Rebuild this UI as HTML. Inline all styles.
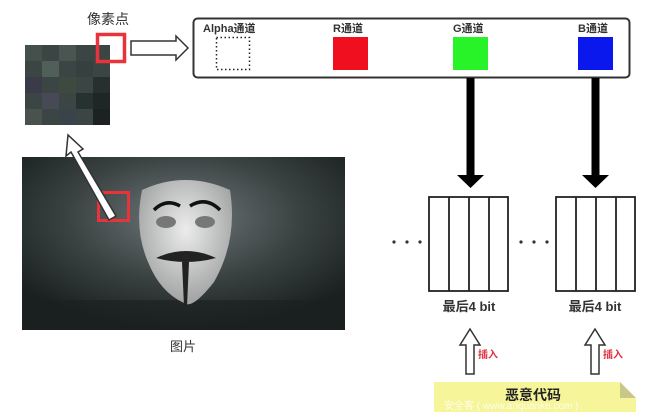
<!DOCTYPE html>
<html><head><meta charset="utf-8"><style>
html,body{margin:0;padding:0;background:#fff;width:660px;height:420px;overflow:hidden}
svg text{font-family:"Liberation Sans","Noto Sans CJK SC",sans-serif}
</style></head><body>
<svg width="660" height="420" viewBox="0 0 660 420" xmlns="http://www.w3.org/2000/svg">
<defs>
<radialGradient id="smoke" cx="0.5" cy="0.35" r="0.65">
<stop offset="0" stop-color="#70797a"/><stop offset="0.55" stop-color="#3a4242"/><stop offset="1" stop-color="#1a2020"/>
</radialGradient>
<radialGradient id="mask" cx="0.5" cy="0.4" r="0.6">
<stop offset="0" stop-color="#ececec"/><stop offset="1" stop-color="#a0a2a2"/>
</radialGradient>
</defs>
<g>
<rect x="25" y="45" width="85" height="80" fill="#3b4644"/>
<rect x="25" y="45" width="17" height="16" fill="#44504c"/><rect x="59" y="45" width="17" height="16" fill="#4a5552"/>
<rect x="42" y="61" width="17" height="16" fill="#506058"/><rect x="76" y="61" width="17" height="16" fill="#35403f"/>
<rect x="25" y="77" width="17" height="16" fill="#3a3a48"/><rect x="59" y="77" width="17" height="16" fill="#3e4a40"/>
<rect x="93" y="77" width="17" height="16" fill="#28302f"/><rect x="42" y="93" width="17" height="16" fill="#474a55"/>
<rect x="76" y="93" width="17" height="16" fill="#263230"/><rect x="93" y="93" width="17" height="16" fill="#1f2726"/>
<rect x="25" y="109" width="17" height="16" fill="#4a524e"/><rect x="59" y="109" width="17" height="16" fill="#3a424a"/>
<rect x="93" y="109" width="17" height="16" fill="#1c2222"/>
</g>
<text x="108" y="24" font-size="14" text-anchor="middle" fill="#333">像素点</text>
<rect x="97.5" y="34.5" width="27" height="27" fill="none" stroke="#e8333a" stroke-width="3.5"/>
<path d="M131,41 H176 V36 L188,48 L176,60 V55 H131 Z" fill="#fff" stroke="#333" stroke-width="1.5"/>
<rect x="193.5" y="18.5" width="436" height="59" rx="4" fill="#fff" stroke="#333" stroke-width="2"/>
<g font-size="11" font-weight="bold" fill="#333">
<text x="203" y="32">Alpha通道</text><text x="333" y="32">R通道</text><text x="453" y="32">G通道</text><text x="578" y="32">B通道</text>
</g>
<rect x="216.5" y="37.5" width="33" height="32" fill="none" stroke="#222" stroke-width="1.5" stroke-dasharray="1.5,2.5"/>
<rect x="333" y="37" width="35" height="33" fill="#f00f1e"/>
<rect x="453" y="37" width="35" height="33" fill="#28f228"/>
<rect x="578" y="37" width="35" height="33" fill="#0a18ee"/>
<rect x="466.5" y="78" width="8" height="97" fill="#000"/><path d="M457,175 H484 L470.5,188 Z" fill="#000"/>
<rect x="591.5" y="78" width="8" height="97" fill="#000"/><path d="M582,175 H609 L595.5,188 Z" fill="#000"/>
<rect x="22" y="157" width="323" height="173" fill="url(#smoke)"/>
<rect x="22" y="300" width="323" height="30" fill="#1b2020" opacity="0.6"/>
<path d="M142,190 Q185,170 230,190 Q238,240 214,282 Q192,310 184,303 Q160,292 148,262 Q134,230 142,190 Z" fill="url(#mask)"/>
<path d="M154,210 Q166,198 180,206 M190,206 Q206,196 220,210" stroke="#111" stroke-width="3.5" fill="none"/>
<ellipse cx="166" cy="222" rx="10" ry="6" fill="#777"/><ellipse cx="205" cy="222" rx="10" ry="6" fill="#777"/>
<path d="M156,258 Q186,244 216,258 Q186,266 156,258 Z" fill="#222"/>
<path d="M182,262 L189,262 L187,306 L184,306 Z" fill="#222"/>
<rect x="98.5" y="192.5" width="30" height="28" fill="none" stroke="#e8333a" stroke-width="3"/>
<path d="M116,216 L78,152 L83,149 L68,135 L66,156 L71,152 L109,220 Z" fill="#fff" stroke="#333" stroke-width="1.5"/>
<text x="183" y="351" font-size="13" text-anchor="middle" fill="#333">图片</text>
<g fill="none" stroke="#222" stroke-width="1.8">
<rect x="429" y="197" width="79" height="94"/>
<line x1="449" y1="197" x2="449" y2="291"/><line x1="469" y1="197" x2="469" y2="291"/><line x1="489" y1="197" x2="489" y2="291"/>
<rect x="556" y="197" width="79" height="94"/>
<line x1="576" y1="197" x2="576" y2="291"/><line x1="596" y1="197" x2="596" y2="291"/><line x1="616" y1="197" x2="616" y2="291"/>
</g>
<g fill="#333"><circle cx="394" cy="242" r="1.6"/><circle cx="407" cy="242" r="1.6"/><circle cx="420" cy="242" r="1.6"/>
<circle cx="521" cy="242" r="1.6"/><circle cx="534" cy="242" r="1.6"/><circle cx="547" cy="242" r="1.6"/></g>
<g font-size="13" font-weight="bold" fill="#333" text-anchor="middle">
<text x="469" y="311">最后4 bit</text><text x="595" y="311">最后4 bit</text></g>
<path d="M466,374 V345 H460 L470,329 L480,345 H474 V374 Z" fill="#fff" stroke="#333" stroke-width="1.5"/>
<path d="M591,374 V345 H585 L595,329 L605,345 H599 V374 Z" fill="#fff" stroke="#333" stroke-width="1.5"/>
<g font-size="10" font-weight="bold" fill="#e03040"><text x="478" y="358">插入</text><text x="603" y="358">插入</text></g>
<path d="M434,382 H620 L636,398 V412 H434 Z" fill="#f6f59a"/>
<path d="M620,382 L636,398 H620 Z" fill="#c8c88a"/>
<text x="505" y="400" font-size="14" font-weight="bold" fill="#222">恶意代码</text>
<text x="444" y="409" font-size="10" fill="#fff" opacity="0.8">安全客 ( www.anquanke.com )</text>
</svg>
</body></html>
